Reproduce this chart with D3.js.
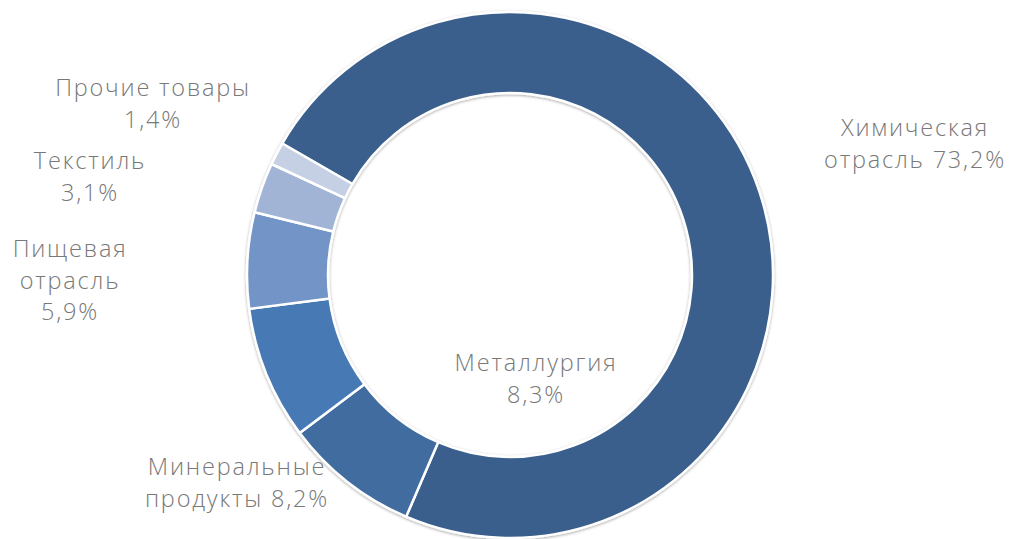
<!doctype html>
<html>
<head>
<meta charset="UTF-8">
<script src="https://d3js.org/d3.v7.min.js"></script>
<style>
  body { margin: 0; background: #fff; }
  text { font-family: "Open Sans", "DejaVu Sans", sans-serif; font-weight: 300; fill: #787878; }
</style>
</head>
<body>
<script>
var categories = ["Химическая отрасль", "Металлургия", "Минеральные продукты", "Пищевая отрасль", "Текстиль", "Прочие товары"];
var values = [73.2, 8.3, 8.2, 5.9, 3.1, 1.4];
var labelLines = [
  ["Химическая", "отрасль 73,2%"],
  ["Металлургия", "8,3%"],
  ["Минеральные", "продукты 8,2%"],
  ["Пищевая", "отрасль", "5,9%"],
  ["Текстиль", "3,1%"],
  ["Прочие товары", "1,4%"]
];
var colors = ["#3a5e8c", "#416ca0", "#4679b4", "#7294c6", "#a2b4d6", "#c5d0e4"];

// label anchor points (first line), layout only
var labelPos = [[915, 136], [536, 371], [237, 475], [70, 257], [90, 169], [153, 96]];

var width = 1012, height = 539;
var cx = 510, cy = 275, rOuter = 263, rInner = 182;

var svg = d3.select("body").append("svg")
  .attr("width", width)
  .attr("height", height);

var defs = svg.append("defs");
var f = defs.append("filter").attr("id", "sh")
  .attr("x", "-10%").attr("y", "-10%").attr("width", "120%").attr("height", "120%");
f.append("feDropShadow").attr("dx", 0).attr("dy", 1).attr("stdDeviation", 1.5)
  .attr("flood-color", "#000").attr("flood-opacity", 0.35);

var pie = d3.pie().sort(null)
  .startAngle(-Math.PI / 3)
  .endAngle(-Math.PI / 3 + 2 * Math.PI);
var arc = d3.arc().innerRadius(rInner).outerRadius(rOuter);

var g = svg.append("g").attr("transform", "translate(" + cx + "," + cy + ")")
  .attr("filter", "url(#sh)");

g.selectAll("path").data(pie(values)).enter().append("path")
  .attr("d", arc)
  .attr("fill", function(d, i){ return colors[i]; })
  .attr("stroke", "#fff")
  .attr("stroke-width", 2.5)
  .attr("stroke-linejoin", "round");

var lbl = svg.append("g").selectAll("text").data(categories).enter().append("text")
  .attr("text-anchor", "middle")
  .attr("font-size", 23.5)
  .attr("letter-spacing", 1.8)
  .attr("x", function(d, i){ return labelPos[i][0]; })
  .attr("y", function(d, i){ return labelPos[i][1]; });

lbl.each(function(d, i){
  var t = d3.select(this);
  labelLines[i].forEach(function(line, j){
    t.append("tspan")
      .attr("x", labelPos[i][0])
      .attr("dy", j === 0 ? 0 : 31.5)
      .text(line);
  });
});
</script>
</body>
</html>
